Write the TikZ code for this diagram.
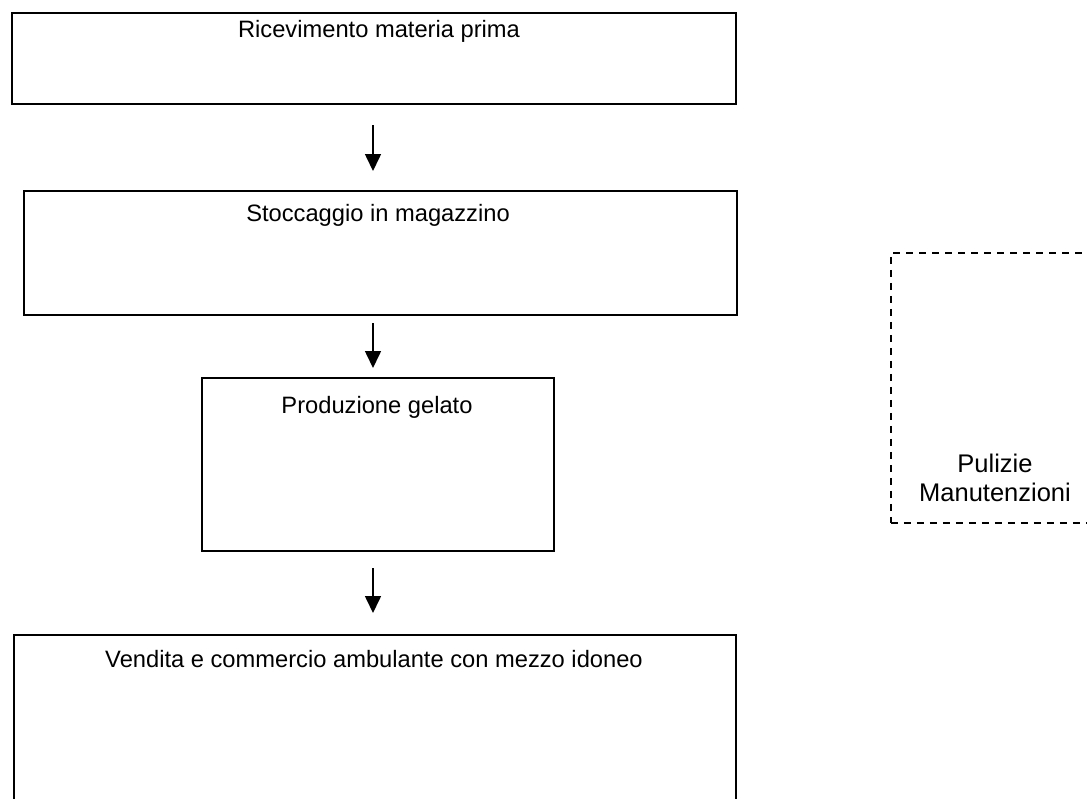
\documentclass[tikz,border=0pt]{standalone}
\usepackage{fontspec}
\setmainfont{Liberation Sans}
\usetikzlibrary{arrows.meta}
\begin{document}
\begin{tikzpicture}[x=1pt,y=-1pt,
  stepbox/.style={draw=black, line width=2pt, rectangle, inner sep=0pt, anchor=north west},
  boxtext/.style={font=\fontsize{23.7}{28}\selectfont, anchor=north, inner sep=0pt},
  flow/.style={line width=1.6pt, -{Triangle[width=16pt,length=17pt]}},
  sidebox/.style={draw=black, line width=1.6pt, dash pattern=on 7pt off 6pt, rectangle, inner sep=0pt, anchor=north west}
]
\useasboundingbox (0,0) rectangle (1087,798);
\clip (0,0) rectangle (1087,798);
\fill[white] (0,0) rectangle (1087,798);

\node[stepbox, minimum width=724pt, minimum height=91pt] (b1) at (11,12) {};
\node[stepbox, minimum width=713pt, minimum height=124pt] (b2) at (23,190) {};
\node[stepbox, minimum width=352pt, minimum height=173pt] (b3) at (201,377) {};
\node[stepbox, minimum width=722pt, minimum height=200pt] (b4) at (13,634) {};
\node[sidebox, minimum width=240pt, minimum height=270pt] (s1) at (890,252) {};

\node[boxtext] (t1) at (379,20) {Ricevimento materia prima};
\node[boxtext] (t2) at (378,204) {Stoccaggio in magazzino};
\node[boxtext] (t3) at (377,396) {Produzione gelato};
\node[boxtext] (t4) at (374,650) {Vendita e commercio ambulante con mezzo idoneo};
\node[font=\fontsize{25.5}{29.5}\selectfont, align=center, inner sep=0pt] (t5) at (995,478) {Pulizie\\Manutenzioni};

\coordinate (a1s) at (373,125);
\coordinate (a1e) at (373,171);
\coordinate (a2s) at (373,323);
\coordinate (a2e) at (373,368);
\coordinate (a3s) at (373,568);
\coordinate (a3e) at (373,613);
\draw[flow] (a1s) -- (a1e);
\draw[flow] (a2s) -- (a2e);
\draw[flow] (a3s) -- (a3e);
\end{tikzpicture}
\end{document}
